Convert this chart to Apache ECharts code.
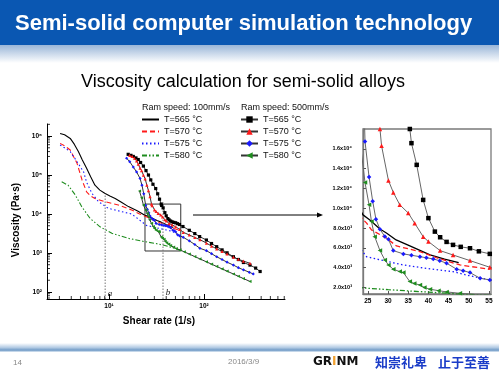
<!DOCTYPE html>
<html><head><meta charset="utf-8">
<script src="https://cdn.jsdelivr.net/npm/echarts@6/dist/echarts.min.js"></script>
<style>html,body{margin:0;padding:0;background:#fff}#c{width:499px;height:374px}</style>
</head><body><div id="c"></div>
<script>
// ---------- data (shear rate [1/s], viscosity [Pa·s]) ----------
// Ram speed 100 mm/s
const s100_565 = [[3.05,1.17e6],[3.4,1.08e6],[3.9,8.7e5],[4.3,6.2e5],[4.75,4.0e5],[5.2,2.5e5],[5.8,1.5e5],[6.4,9.0e4],[7.1,5.5e4],[8.0,4.1e4],[9.0,3.4e4],[10.2,2.9e4],[11.6,2.5e4],[13.5,2.0e4],[16,1.55e4],[20,1.2e4],[23.8,9330],[25.5,8820],[28,7900],[29.6,7500],[32,6800],[35.4,6190],[40.4,5285],[44,4850],[47.5,4500]];
const s100_570 = [[3.05,6.5e5],[3.4,5.6e5],[3.9,4.4e5],[4.6,2.0e5],[5.2,7.4e4],[5.8,3.7e4],[6.4,2.9e4],[7.1,2.5e4],[9.1,2.07e4],[12.5,1.7e4],[17.3,1.27e4],[21,1.0e4],[24.7,8500],[25.9,7810],[29.6,6970],[32.1,6190],[37.9,5620],[42,5000],[47.8,4270],[55.2,3840]];
const s100_575 = [[3.05,5.9e5],[3.4,5.0e5],[3.9,4.0e5],[4.6,2.2e5],[5.4,1.2e5],[5.8,6.5e4],[6.6,3.4e4],[7.7,2.1e4],[9.8,1.4e4],[13.6,1.15e4],[17.3,1.0e4],[21,7000],[24.7,5100],[29,4700],[33.8,4270],[40,3900],[46.1,3600],[50,3200],[55.2,2760]];
const s100_580 = [[3.17,6.7e4],[3.7,5.5e4],[4.4,3.1e4],[5.16,1.54e4],[6.3,7760],[8.04,4700],[10.7,3200],[15.9,2380],[23.9,1950],[30,1780],[37.9,1580],[47.8,1340],[56,1180]];
// Ram speed 500 mm/s
const s500_565 = [[15.9,3.4e5],[17,3.2e5],[18,3.0e5],[19.2,2.75e5],[20.3,2.5e5],[21.5,2.1e5],[23,1.7e5],[24.5,1.3e5],[26,1.0e5],[27.5,7.5e4],[29,5.8e4],[31,4.5e4],[32.5,3.3e4],[34,2.4e4],[35.4,18000],[35.8,16570],[37.1,14380],[38.7,10840],[40,9000],[41.6,7640],[42.9,7070],[44.5,6600],[46.1,6300],[48,6100],[50.3,5960],[52.5,5650],[55.2,5390],[60,4775],[70,3820],[80,3150],[90,2630],[106,2150],[120,1750],[136,1450],[155,1200],[175,1010],[204,800],[230,680],[260,570],[305,490],[350,410],[390,335]];
const s500_570 = [[16.5,3.2e5],[17.5,3.0e5],[18.5,2.7e5],[19.5,2.3e5],[20.3,1.9e5],[21.2,1.5e5],[22,1.3e5],[23,1.0e5],[24,8.0e4],[25,5.5e4],[26,4.0e4],[27,2.8e4],[28,18000],[28.4,16300],[30.1,12800],[31.3,11600],[32.9,10350],[35,9520],[36.6,8490],[38.7,7130],[40,6630],[42.9,5720],[46.1,5280],[50.3,4710],[55.2,4040],[60.5,3400],[70,2900],[80,2500],[90.6,2200],[106,1800],[120,1500],[136,1280],[155,1100],[175,950],[204,780],[230,690],[260,620],[305,545]];
const s500_575 = [[15.3,2.7e5],[16.5,2.2e5],[18,1.6e5],[19.5,1.2e5],[21.2,8.2e4],[22.2,5.5e4],[23.2,3.3e4],[24.3,16740],[25.3,13150],[26.2,10700],[27,8900],[28,7880],[29.2,7140],[30.1,6870],[31.3,5720],[33.8,5390],[35.8,5250],[37.9,5110],[39.5,5000],[41.2,4880],[42.8,4700],[44.5,4450],[47,3840],[48.6,3700],[50.3,3500],[52.8,2930],[55.2,2760],[60.5,2520],[70,2050],[80,1650],[90.6,1320],[106,1150],[120,960],[136,800],[155,680],[175,580],[204,490],[230,420],[260,370],[300,320],[330,290]];
const s500_580 = [[20.9,3.9e4],[22,2.6e4],[23,1.7e4],[24.3,12590],[25.3,10340],[25.9,8650],[26.7,7130],[28,5720],[29.2,4780],[30.1,4270],[31.3,3840],[32.9,3600],[33.8,3500],[35.4,2590],[36.5,2400],[37.9,2250],[39,2000],[40.4,1820],[42.5,1680],[44.5,1550],[47.8,1410],[51,1300],[55.9,1200],[62,1070],[70,937],[80,809],[90.6,706],[106,593],[120,518],[136,451],[155,391],[175,342],[204,289],[230,253],[260,221],[305,186]];
// reference shear rates a, b and their viscosity heights
const markA = [9.1, 3.3e4];
const markB = [37, 2.0e4];
// zoomed window shown on the right
const zoomBox = [[23.9, 18000], [56.9, 1125]];
// axes
const X_MIN = 2.22, X_MAX = 713, Y_MIN = 66, Y_MAX = 2.04e6;
const INSET_X = [23.8, 55.5], INSET_Y = [1340, 18000];
const xMinorTicks = [3,4,5,6,7,8,9,20,30,40,50,60,70,80,90,200,300,400,500,600,700];
const yMinorTicks = [70,80,90,200,300,400,500,600,700,800,900,2000,3000,4000,5000,6000,7000,8000,9000,2e4,3e4,4e4,5e4,6e4,7e4,8e4,9e4,2e5,3e5,4e5,5e5,6e5,7e5,8e5,9e5,2e6];
const legendLabels = {L565:'T=565 °C', L570:'T=570 °C', L575:'T=575 °C', L580:'T=580 °C', H565:'T=565 °C', H570:'T=570 °C', H575:'T=575 °C', H580:'T=580 °C'};

const SUP = {'0':'⁰','1':'¹','2':'²','3':'³','4':'⁴','5':'⁵','6':'⁶','7':'⁷','8':'⁸','9':'⁹'};
function powLabel(v){
  const l = Math.log10(v);
  if (Math.abs(l - Math.round(l)) > 1e-6) return '';
  return '10' + String(Math.round(l)).split('').map(c => SUP[c]).join('');
}
function sciLabel(v){
  const e = Math.floor(Math.log10(v) + 1e-9);
  return (v / Math.pow(10, e)).toFixed(1) + 'x10' + SUP[String(e)];
}
const FONT = 'Liberation Sans, Arial, sans-serif';

function lowSeries(name, data, color, dash, g){
  return {name, type:'line', xAxisIndex:g, yAxisIndex:g, data, symbol:'none',
    lineStyle:{color, width: g ? 1.3 : 1.1, type: dash}, itemStyle:{color},
    clip:true, silent:true, z:2, animation:false};
}
function highSeries(name, data, color, symbol, rot, g){
  return {name, type:'line', xAxisIndex:g, yAxisIndex:g, data, symbol, symbolRotate:rot,
    symbolSize: g ? 4.5 : 3.2, showAllSymbol:true,
    lineStyle:{color: g ? '#666' : '#333', width:1}, itemStyle:{color, borderWidth:0},
    clip:true, silent:true, z:3, animation:false};
}
const RED = '#ff1a1a', BLUE = '#1a1aff', GREEN = '#1e8c1e';
const series = [];
[0,1].forEach(g => {
  series.push(lowSeries('L565', s100_565, '#000', 'solid', g));
  series.push(lowSeries('L570', s100_570, RED, [5,3], g));
  series.push(lowSeries('L575', s100_575, BLUE, [1.5,2.5], g));
  series.push(lowSeries('L580', s100_580, GREEN, [5,2,1.5,2,1.5,2], g));
  series.push(highSeries('H565', s500_565, '#000', 'rect', 0, g));
  series.push(highSeries('H570', s500_570, RED, 'triangle', 0, g));
  series.push(highSeries('H575', s500_575, BLUE, 'diamond', 0, g));
  series.push(highSeries('H580', s500_580, GREEN, 'triangle', 90, g));
});
// reference lines a and b, with the zoom window box
series.push({type:'line', xAxisIndex:0, yAxisIndex:0, symbol:'none', silent:true, animation:false,
  data:[[markA[0], Y_MIN],[markA[0], markA[1]]], lineStyle:{color:'#777', width:1, type:[1.5,1.5]},
  markArea:{silent:true, itemStyle:{color:'rgba(0,0,0,0)', borderColor:'#333', borderWidth:1},
    data:[[{coord:zoomBox[0]},{coord:zoomBox[1]}]]}});
series.push({type:'line', xAxisIndex:0, yAxisIndex:0, symbol:'none', silent:true, animation:false,
  data:[[markB[0], Y_MIN],[markB[0], markB[1]]], lineStyle:{color:'#777', width:1, type:[1.5,1.5]}});
// minor ticks of the log axes
series.push({type:'scatter', xAxisIndex:0, yAxisIndex:0, silent:true, clip:false, animation:false,
  data: yMinorTicks.map(v => [X_MIN, v]), symbol:'rect', symbolSize:[3,1], symbolOffset:[1.5,0],
  itemStyle:{color:'#000'}, z:5});
series.push({type:'scatter', xAxisIndex:0, yAxisIndex:0, silent:true, clip:false, animation:false,
  data: xMinorTicks.map(v => [v, Y_MIN]), symbol:'rect', symbolSize:[1,3], symbolOffset:[0,-1.5],
  itemStyle:{color:'#000'}, z:5});

const legendBase = {orient:'vertical', itemWidth:17, itemHeight:8, itemGap:3, padding:0,
  selectedMode:false, formatter: n => legendLabels[n],
  textStyle:{fontSize:9, color:'#111', fontFamily:FONT}};

const option = {
  animation:false,
  backgroundColor:'#fff',
  grid:[
    {left:47, top:124, width:238, height:175, outerBoundsMode:'none'},
    {left:363, top:129, width:128, height:165, show:true, borderColor:'#7a7a7a', borderWidth:1.3, outerBoundsMode:'none'}
  ],
  xAxis:[
    {type:'log', gridIndex:0, min:X_MIN, max:X_MAX,
     axisLine:{show:true, lineStyle:{color:'#000', width:1}},
     axisTick:{show:true, inside:true, length:5, lineStyle:{color:'#000'}},
     axisLabel:{formatter:powLabel, fontSize:6.5, fontWeight:'bold', color:'#000', fontFamily:FONT, margin:4, showMinLabel:false, showMaxLabel:false},
     splitLine:{show:false}},
    {type:'value', gridIndex:1, min:INSET_X[0], max:INSET_X[1], splitNumber:6,
     axisLine:{show:true, lineStyle:{color:'#7a7a7a', width:1.3}},
     axisTick:{show:true, inside:true, length:3, lineStyle:{color:'#555'}},
     axisLabel:{fontSize:6.5, fontWeight:'bold', color:'#000', fontFamily:FONT, margin:4, showMinLabel:false, showMaxLabel:false},
     splitLine:{show:false}}
  ],
  yAxis:[
    {type:'log', gridIndex:0, min:Y_MIN, max:Y_MAX,
     axisLine:{show:true, lineStyle:{color:'#000', width:1}},
     axisTick:{show:true, inside:true, length:5, lineStyle:{color:'#000'}},
     axisLabel:{formatter:powLabel, fontSize:6.5, fontWeight:'bold', color:'#000', fontFamily:FONT, margin:5, showMinLabel:false, showMaxLabel:false},
     splitLine:{show:false}},
    {type:'value', gridIndex:1, min:INSET_Y[0], max:INSET_Y[1], splitNumber:8,
     axisLine:{show:true, lineStyle:{color:'#7a7a7a', width:1.3}},
     axisTick:{show:true, inside:true, length:3, lineStyle:{color:'#555'}},
     axisLabel:{formatter:sciLabel, fontSize:5.5, fontWeight:'bold', color:'#000', fontFamily:FONT, margin:11, showMinLabel:false, showMaxLabel:false},
     splitLine:{show:false}}
  ],
  legend:[
    Object.assign({left:141, top:115, data:['L565','L570','L575','L580'], itemStyle:{opacity:0}}, legendBase),
    Object.assign({left:240, top:115, data:['H565','H570','H575','H580']}, legendBase)
  ],
  series,
  graphic:[
    {type:'rect', shape:{x:0, y:0, width:499, height:45}, style:{fill:'#0a57b2'}, z:-1},
    {type:'rect', shape:{x:0, y:45, width:499, height:18}, z:-1,
     style:{fill:new echarts.graphic.LinearGradient(0,0,0,1,[{offset:0,color:'#9ab6d8'},{offset:1,color:'#ffffff'}])}},
    {type:'text', x:15, y:24, style:{text:'Semi-solid computer simulation technology', fill:'#fff', font:'bold 22px '+FONT, verticalAlign:'middle'}},
    {type:'text', x:243, y:82, style:{text:'Viscosity calculation for semi-solid alloys', fill:'#000', font:'18px '+FONT, align:'center', verticalAlign:'middle'}},
    {type:'text', x:142, y:108, style:{text:'Ram speed: 100mm/s', fill:'#111', font:'9px '+FONT, verticalAlign:'middle'}},
    {type:'text', x:241, y:108, style:{text:'Ram speed: 500mm/s', fill:'#111', font:'9px '+FONT, verticalAlign:'middle'}},
    {type:'text', x:16, y:220, rotation:Math.PI/2, style:{text:'Viscosity (Pa·s)', fill:'#000', font:'bold 10px '+FONT, align:'center', verticalAlign:'middle'}},
    {type:'text', x:159, y:321, style:{text:'Shear rate (1/s)', fill:'#000', font:'bold 10px '+FONT, align:'center', verticalAlign:'middle'}},
    {type:'text', x:110, y:294, style:{text:'a', fill:'#222', font:'italic 9px Liberation Serif, serif', align:'center', verticalAlign:'middle'}},
    {type:'text', x:168, y:293, style:{text:'b', fill:'#222', font:'italic 9px Liberation Serif, serif', align:'center', verticalAlign:'middle'}},
    {type:'line', shape:{x1:193, y1:215, x2:318, y2:215}, style:{stroke:'#000', lineWidth:1}},
    {type:'polygon', shape:{points:[[317,212.5],[323,215],[317,217.5]]}, style:{fill:'#000'}},
    {type:'rect', shape:{x:0, y:343, width:499, height:9}, z:-1,
     style:{fill:new echarts.graphic.LinearGradient(0,0,0,1,[{offset:0,color:'#ffffff'},{offset:0.5,color:'#b3cbe4'},{offset:0.8,color:'#6f9ac6'},{offset:1,color:'#e4edf6'}])}},
    {type:'text', x:13, y:363, style:{text:'14', fill:'#888', font:'8px '+FONT, verticalAlign:'middle'}},
    {type:'text', x:228, y:362, style:{text:'2016/3/9', fill:'#888', font:'8px '+FONT, verticalAlign:'middle'}},
    {type:'text', x:313, y:362, style:{text:'{g|GR}{o|I}{g|NM}', verticalAlign:'middle',
      rich:{g:{fill:'#111', font:'bold 12px DejaVu Sans, sans-serif'}, o:{fill:'#f0a030', font:'bold 12px DejaVu Sans, sans-serif'}}}},
    {type:'text', x:375, y:362, style:{text:'知崇礼卑', fill:'#1a3cc8', font:'bold 13px Noto Sans CJK SC, sans-serif', verticalAlign:'middle'}},
    {type:'text', x:438, y:362, style:{text:'止于至善', fill:'#1a3cc8', font:'bold 13px Noto Sans CJK SC, sans-serif', verticalAlign:'middle'}}
  ]
};
const chart = echarts.init(document.getElementById('c'), null, {renderer:'canvas'});
chart.setOption(option);
</script>
</body></html>
